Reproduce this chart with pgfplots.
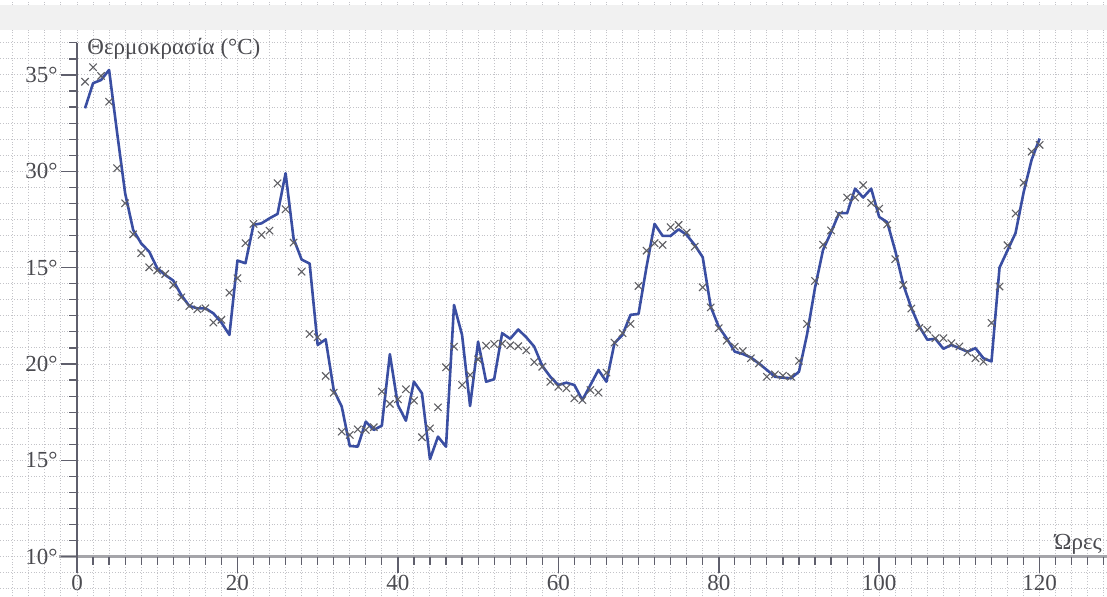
\documentclass[border=0pt]{standalone}
\usepackage{pgfplots}
\pgfplotsset{compat=1.18}
\usepackage{pgfplotstable}
\usepackage{fontspec}
\setmainfont{Liberation Serif}
\definecolor{lineblue}{RGB}{58,78,162}
\definecolor{crossgray}{RGB}{95,95,100}
\definecolor{axisgray}{RGB}{95,95,108}
\definecolor{xaxisgray}{RGB}{165,165,170}
\definecolor{txtgray}{RGB}{75,75,80}
\definecolor{gridgray}{RGB}{195,195,200}

\pgfplotstableread{
h t
1 34.65
2 35.40
3 34.95
4 33.61
5 30.16
6 28.34
7 26.73
8 25.75
9 25.02
10 24.85
11 24.67
12 24.10
13 23.46
14 23.01
15 22.84
16 22.89
17 22.15
18 22.29
19 23.70
20 24.45
21 26.27
22 27.27
23 26.70
24 26.92
25 29.38
26 28.03
27 26.30
28 24.79
29 21.56
30 21.39
31 19.38
32 18.51
33 16.49
34 16.32
35 16.61
36 16.58
37 16.72
38 18.57
39 17.93
40 18.17
41 18.69
42 18.10
43 16.20
44 16.66
45 17.75
46 19.83
47 20.90
48 18.91
49 19.43
50 20.24
51 20.95
52 21.04
53 21.06
54 20.97
55 20.92
56 20.71
57 20.10
58 19.86
59 19.08
60 18.82
61 18.74
62 18.22
63 18.13
64 18.65
65 18.52
66 19.55
67 21.11
68 21.60
69 22.08
70 24.05
71 25.88
72 26.27
73 26.18
74 27.10
75 27.22
76 26.82
77 26.09
78 23.98
79 22.94
80 21.86
81 21.21
82 20.90
83 20.67
84 20.30
85 20.03
86 19.34
87 19.46
88 19.39
89 19.34
90 20.16
91 22.08
92 24.31
93 26.19
94 26.93
95 27.76
96 28.64
97 28.64
98 29.28
99 28.36
100 28.06
101 27.24
102 25.44
103 24.10
104 22.88
105 21.87
106 21.78
107 21.34
108 21.34
109 21.08
110 20.91
111 20.61
112 20.30
113 20.12
114 22.13
115 24.02
116 26.16
117 27.81
118 29.41
119 31.02
120 31.37
}\crossdata

\pgfplotstableread{
h t
1 33.27
2 34.57
3 34.74
4 35.26
5 32.00
6 28.86
7 26.96
8 26.26
9 25.83
10 24.97
11 24.62
12 24.33
13 23.58
14 23.01
15 22.89
16 22.89
17 22.63
18 22.15
19 21.51
20 25.37
21 25.23
22 27.22
23 27.30
24 27.56
25 27.79
26 29.90
27 26.50
28 25.42
29 25.21
30 20.99
31 21.28
32 18.65
33 17.79
34 15.75
35 15.71
36 17.01
37 16.58
38 16.80
39 20.51
40 17.87
41 17.06
42 19.08
43 18.48
44 15.06
45 16.23
46 15.71
47 23.06
48 21.51
49 17.82
50 21.16
51 19.08
52 19.21
53 21.60
54 21.31
55 21.79
56 21.39
57 20.90
58 19.90
59 19.34
60 18.91
61 19.03
62 18.91
63 18.13
64 18.91
65 19.69
66 19.08
67 21.08
68 21.51
69 22.55
70 22.60
71 25.05
72 27.27
73 26.65
74 26.65
75 26.99
76 26.70
77 26.18
78 25.54
79 22.97
80 21.93
81 21.32
82 20.64
83 20.52
84 20.34
85 20.03
86 19.69
87 19.34
88 19.29
89 19.26
90 19.60
91 21.52
92 23.96
93 25.92
94 26.84
95 27.83
96 27.83
97 29.10
98 28.64
99 29.10
100 27.63
101 27.36
102 25.88
103 24.13
104 22.91
105 21.95
106 21.26
107 21.31
108 20.79
109 20.99
110 20.82
111 20.64
112 20.82
113 20.30
114 20.13
115 25.00
116 25.90
117 26.80
118 28.90
119 30.60
120 31.70
}\linedata

\begin{document}
\begin{tikzpicture}
\begin{axis}[
  width=553.5pt, height=298pt, scale only axis,
  xmin=-9.6, xmax=128.4, ymin=7.96, ymax=38.89,
  axis line style={draw=none},
  xtick={-8,-6,...,128},
  ytick={8.33333,9.16667,10,10.83333,11.66667,12.5,13.33333,14.16667,15,15.83333,16.66667,17.5,18.33333,19.16667,20,20.83333,21.66667,22.5,23.33333,24.16667,25,25.83333,26.66667,27.5,28.33333,29.16667,30,30.83333,31.66667,32.5,33.33333,34.16667,35,35.83333,36.66667,37.5,38.33333},
  xticklabels={}, yticklabels={},
  major tick length=0pt,
  grid=major,
  grid style={gridgray, densely dotted, line width=0.5pt},
]
% scan band at top
\fill[gray!11] (axis cs:-9.6,37.35) rectangle (axis cs:128.4,38.62);

% axes
\draw[xaxisgray, line width=1.2pt] (axis cs:-2.3,10) -- (axis cs:128.4,10);
\draw[axisgray, line width=0.8pt] (axis cs:0,9.17) -- (axis cs:0,36.667);

% y ticks
\pgfplotsinvokeforeach{0,1,...,32}{
  \draw[axisgray, line width=0.6pt] (axis cs:0,{10+#1*5/6}) -- ([xshift=-4pt]axis cs:0,{10+#1*5/6});
}
\pgfplotsinvokeforeach{10,15,20,25,30,35}{
  \draw[axisgray, line width=0.8pt] (axis cs:0,#1) -- ([xshift=-8pt]axis cs:0,#1);
}
% x ticks
\pgfplotsinvokeforeach{2,4,...,128}{
  \draw[axisgray, line width=0.6pt] (axis cs:#1,10) -- ([yshift=-4pt]axis cs:#1,10);
}
\pgfplotsinvokeforeach{20,40,60,80,100,120}{
  \draw[axisgray, line width=0.8pt] (axis cs:#1,10) -- ([yshift=-8pt]axis cs:#1,10);
}

% y tick labels (as printed)
\begin{scope}[every node/.style={anchor=east, text=txtgray, font=\fontsize{11.5}{13}\selectfont, inner sep=0pt}]
\node at ([xshift=-9.5pt]axis cs:0,35) {35°};
\node at ([xshift=-9.5pt]axis cs:0,30) {30°};
\node at ([xshift=-9.5pt]axis cs:0,25) {15°};
\node at ([xshift=-9.5pt]axis cs:0,20) {20°};
\node at ([xshift=-9.5pt]axis cs:0,15) {15°};
\node at ([xshift=-9.5pt]axis cs:0,10) {10°};
\end{scope}

% x tick labels
\begin{scope}[every node/.style={anchor=base, text=txtgray, font=\fontsize{11.5}{13}\selectfont, inner sep=0pt}]
\pgfplotsinvokeforeach{0,20,40,60,80,100,120}{
  \node at ([yshift=-16.9pt]axis cs:#1,10) {#1};
}
\end{scope}

% titles
\node[anchor=base west, text=txtgray, font=\fontsize{11.5}{13}\selectfont, inner sep=0pt] at (axis cs:1.25,36.04) {Θερμοκρασία (°C)};
\node[anchor=base east, text=txtgray, font=\fontsize{11.5}{13}\selectfont, inner sep=0pt] at (axis cs:127.8,10.37) {Ώρες};

% data
\addplot[only marks, mark=x, mark size=2.6pt, mark options={crossgray, line width=0.55pt}] table[x=h,y=t]{\crossdata};
\addplot[lineblue, line width=1.3pt, line join=round, mark=none] table[x=h,y=t]{\linedata};
\end{axis}
\pgfresetboundingbox
\path (current axis.south west) rectangle (current axis.north east);
\end{tikzpicture}
\end{document}
